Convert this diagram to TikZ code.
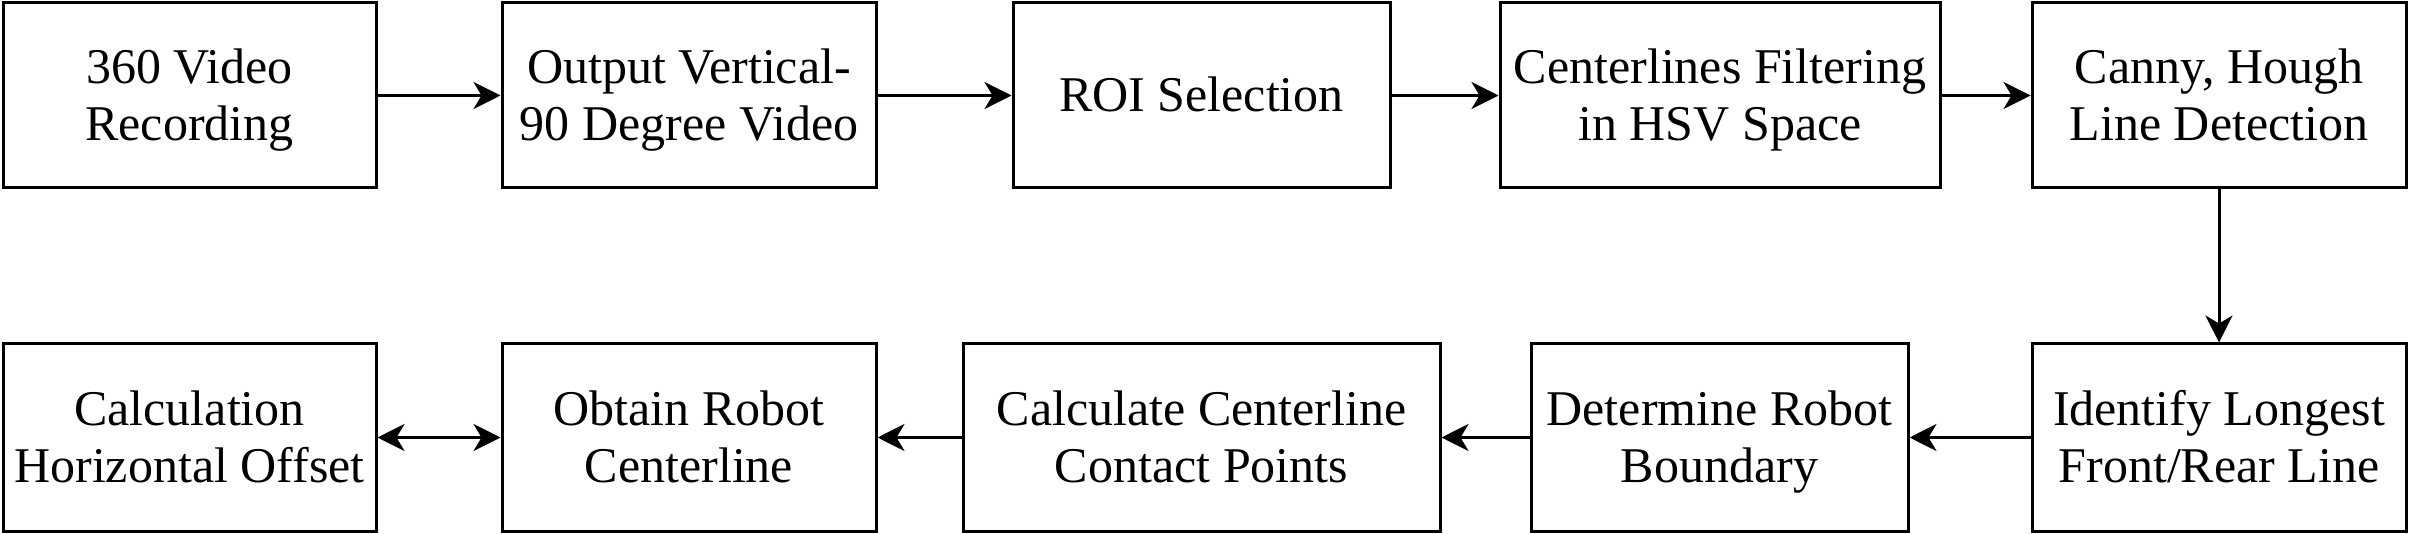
\documentclass[tikz,border=0pt]{standalone}
\usepackage{fontspec}
\setmainfont{Liberation Serif}
\usetikzlibrary{arrows.meta}
\newcommand{\sx}{\rule[-12pt]{0pt}{57pt}}
\tikzset{
  stepbox/.style={draw=black, line width=3pt, inner sep=0pt, align=center,
    font=\fontsize{50}{57}\selectfont},
  toprow/.style={stepbox, minimum height=185pt},
  botrow/.style={stepbox, minimum height=187pt},
  tip/.tip={Stealth[length=27pt,width=27pt,inset=8pt]},
  flow/.style={line width=3pt, -tip},
  flowboth/.style={line width=3pt, tip-tip}
}
\begin{document}
\begin{tikzpicture}[x=1pt,y=1pt]
\useasboundingbox (0,0) rectangle (2409,-534);
\node[toprow, minimum width=373pt] (b1) at (189.5,-95.5) {\sx 360 Video\\\sx Recording};
\node[toprow, minimum width=374pt] (b2) at (689,-95.5) {\sx Output Vertical-\\\sx 90 Degree Video};
\node[toprow, minimum width=377pt] (b3) at (1201.5,-95.5) {\sx ROI Selection};
\node[toprow, minimum width=440pt] (b4) at (1720,-95.5) {\sx Centerlines Filtering\\\sx in HSV Space};
\node[toprow, minimum width=374pt] (b5) at (2219,-95.5) {\sx Canny, Hough\\\sx Line Detection};
\node[botrow, minimum width=373pt] (b6) at (189.5,-437.5) {\sx Calculation\\\sx Horizontal Offset};
\node[botrow, minimum width=374pt] (b7) at (689,-437.5) {\sx Obtain Robot\\\sx Centerline};
\node[botrow, minimum width=477pt] (b8) at (1201.5,-437.5) {\sx Calculate Centerline\\\sx Contact Points};
\node[botrow, minimum width=377pt] (b9) at (1719.5,-437.5) {\sx Determine Robot\\\sx Boundary};
\node[botrow, minimum width=374pt] (b10) at (2219,-437.5) {\sx Identify Longest\\\sx Front/Rear Line};
\draw[flow] (b1) -- (b2);
\draw[flow] (b2) -- (b3);
\draw[flow] (b3) -- (b4);
\draw[flow] (b4) -- (b5);
\draw[flow] (b5) -- (b10);
\draw[flow] (b10) -- (b9);
\draw[flow] (b9) -- (b8);
\draw[flow] (b8) -- (b7);
\draw[flowboth] (b6) -- (b7);
\end{tikzpicture}
\end{document}
